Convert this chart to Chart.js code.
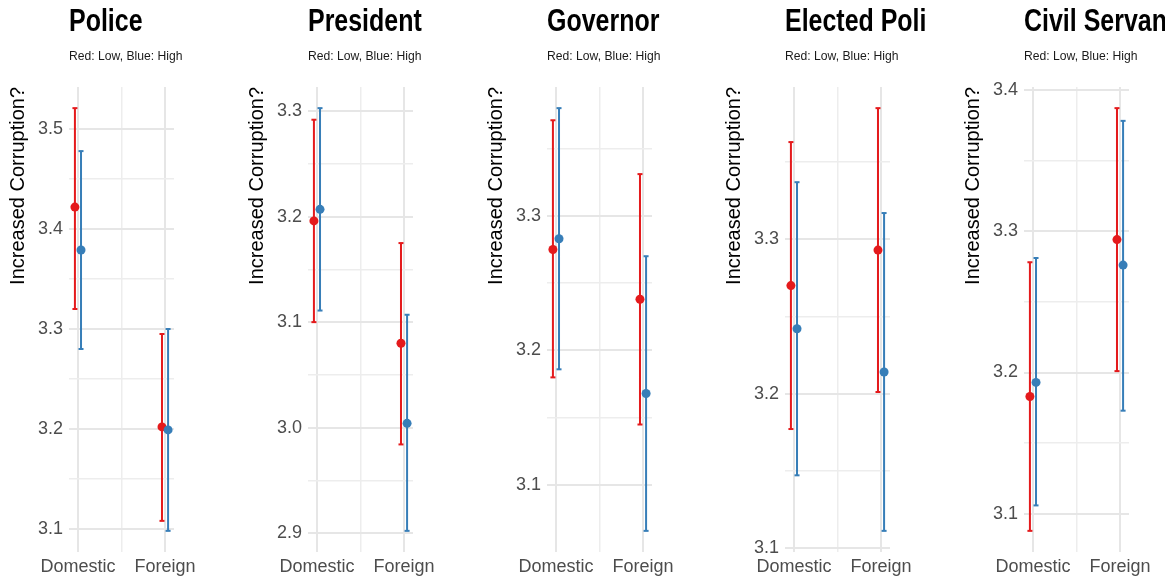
<!DOCTYPE html>
<html>
<head>
<meta charset="utf-8">
<script src="https://cdn.jsdelivr.net/npm/chart.js@4"></script>
<style>
  body { margin: 0; background: #fff; }
  #wrap { position: relative; width: 1173px; height: 579px; overflow: hidden; }
  .panel { position: absolute; top: 0; width: 210px; height: 579px; }
</style>
</head>
<body>
<div id="wrap"></div>
<script>
const panels = ["Police", "President", "Governor", "Elected Politicians", "Civil Servants"];
const groups = ["Domestic", "Foreign"];
const subtitle = "Red: Low, Blue: High";
const yTitle = "Increased Corruption?";

// Red: low group (mean, lower, upper) per panel, [Domestic, Foreign]
const lowMean  = [[3.422, 3.202], [3.196, 3.080], [3.275, 3.238], [3.270, 3.293], [3.183, 3.294]];
const lowLower = [[3.320, 3.108], [3.100, 2.984], [3.180, 3.145], [3.177, 3.201], [3.088, 3.201]];
const lowUpper = [[3.521, 3.295], [3.292, 3.175], [3.371, 3.331], [3.363, 3.385], [3.278, 3.387]];

// Blue: high group
const highMean  = [[3.379, 3.199], [3.207, 3.004], [3.283, 3.168], [3.242, 3.214], [3.193, 3.276]];
const highLower = [[3.280, 3.098], [3.111, 2.902], [3.186, 3.066], [3.147, 3.111], [3.106, 3.173]];
const highUpper = [[3.478, 3.300], [3.303, 3.107], [3.380, 3.270], [3.337, 3.317], [3.281, 3.378]];

const RED = "#E41A1C";
const BLUE = "#377EB8";
const FONT = "'Liberation Sans', Arial, sans-serif";
const DODGE = 0.035;

const wrap = document.getElementById("wrap");

// panel title + subtitle, drawn slightly condensed like the original figure
const header = {
    id: "header",
    afterDraw(chart, args, opts) {
        const { ctx, chartArea } = chart;
        ctx.save();
        ctx.textAlign = "left";
        ctx.textBaseline = "alphabetic";
        ctx.fillStyle = "#000";
        ctx.font = "bold 32px " + FONT;
        ctx.translate(chartArea.left, 31);
        ctx.scale(0.78, 1);
        ctx.fillText(opts.title, 0, 0);
        ctx.restore();

        ctx.save();
        ctx.fillStyle = "#1a1a1a";
        ctx.font = "13.5px " + FONT;
        ctx.translate(chartArea.left, 60);
        ctx.scale(0.9, 1);
        ctx.fillText(opts.subtitle, 0, 0);
        ctx.restore();
    },
};

function isMajorY(v) {
    return Math.abs(v * 10 - Math.round(v * 10)) < 1e-6;
}

function points(mean, dx) {
    return groups.map((g, j) => ({ x: j + dx, y: mean[j] }));
}

function bars(lower, upper, dx) {
    const pts = [];
    groups.forEach((g, j) => {
        if (j > 0) pts.push({ x: j + dx, y: null });
        pts.push({ x: j + dx, y: lower[j] }, { x: j + dx, y: upper[j] });
    });
    return pts;
}

function barSet(data, color, order) {
    return {
        data: data,
        showLine: true,
        borderColor: color,
        borderWidth: 2,
        pointStyle: "line",
        pointRadius: 2.5,
        pointHoverRadius: 2.5,
        pointBorderColor: color,
        pointBorderWidth: 2,
        order: order,
    };
}

function pointSet(data, color, order) {
    return {
        data: data,
        backgroundColor: color,
        borderWidth: 0,
        pointRadius: 4.5,
        pointHoverRadius: 4.5,
        order: order,
    };
}

function drawPanel(name, i) {
    const div = document.createElement("div");
    div.className = "panel";
    div.style.left = Math.round(i * 238.8) + "px";
    const canvas = document.createElement("canvas");
    canvas.width = 210;
    canvas.height = 579;
    div.appendChild(canvas);
    wrap.appendChild(div);

    const all = lowLower[i].concat(lowUpper[i], highLower[i], highUpper[i]);
    const lo = Math.min(...all);
    const hi = Math.max(...all);
    const pad = (hi - lo) * 0.05;

    new Chart(canvas, {
        type: "scatter",
        data: {
            datasets: [
                pointSet(points(highMean[i], DODGE), BLUE, 0),
                pointSet(points(lowMean[i], -DODGE), RED, 1),
                barSet(bars(highLower[i], highUpper[i], DODGE), BLUE, 2),
                barSet(bars(lowLower[i], lowUpper[i], -DODGE), RED, 3),
            ],
        },
        plugins: [header],
        options: {
            animation: false,
            responsive: false,
            devicePixelRatio: 1,
            layout: { padding: { left: 0, right: 36, top: 87, bottom: 0 } },
            plugins: {
                legend: { display: false },
                tooltip: { enabled: false },
                header: { title: name, subtitle: subtitle },
            },
            scales: {
                x: {
                    type: "linear",
                    min: -0.103,
                    max: 1.103,
                    afterBuildTicks: (scale) => {
                        scale.ticks = [{ value: 0 }, { value: 0.5 }, { value: 1 }];
                    },
                    afterFit: (scale) => {
                        scale.height = 27;
                    },
                    ticks: {
                        callback: (v) => (v === 0 ? groups[0] : v === 1 ? groups[1] : ""),
                        color: "#4D4D4D",
                        font: { family: FONT, size: 18 },
                        padding: 4,
                        maxRotation: 0,
                        autoSkip: false,
                    },
                    grid: {
                        color: (ctx) => (ctx.tick && ctx.tick.value === 0.5 ? "#ededed" : "#e6e6e6"),
                        lineWidth: (ctx) => (ctx.tick && ctx.tick.value === 0.5 ? 1.5 : 2),
                        drawTicks: false,
                    },
                    border: { display: false },
                },
                y: {
                    min: lo - pad,
                    max: hi + pad,
                    afterBuildTicks: (scale) => {
                        const ticks = [];
                        for (let k = Math.ceil(scale.min / 0.05 - 1e-9); k * 0.05 <= scale.max + 1e-9; k++) {
                            ticks.push({ value: Math.round(k * 5) / 100 });
                        }
                        scale.ticks = ticks;
                    },
                    afterFit: (scale) => {
                        scale.width = 69;
                    },
                    ticks: {
                        callback: (v) => (isMajorY(v) ? v.toFixed(1) : ""),
                        color: "#4D4D4D",
                        font: { family: FONT, size: 18 },
                        padding: 6,
                        autoSkip: false,
                    },
                    grid: {
                        color: (ctx) => (ctx.tick && isMajorY(ctx.tick.value) ? "#e6e6e6" : "#ededed"),
                        lineWidth: (ctx) => (ctx.tick && isMajorY(ctx.tick.value) ? 2 : 1.5),
                        drawTicks: false,
                    },
                    border: { display: false },
                    title: {
                        display: true,
                        text: yTitle,
                        align: "end",
                        color: "#000",
                        font: { family: FONT, size: 20 },
                        padding: { top: 6, bottom: 0 },
                    },
                },
            },
        },
    });
}

document.fonts.load("bold 32px 'Liberation Sans'").catch(() => null).then(() => {
    panels.forEach(drawPanel);
});
</script>
</body>
</html>
